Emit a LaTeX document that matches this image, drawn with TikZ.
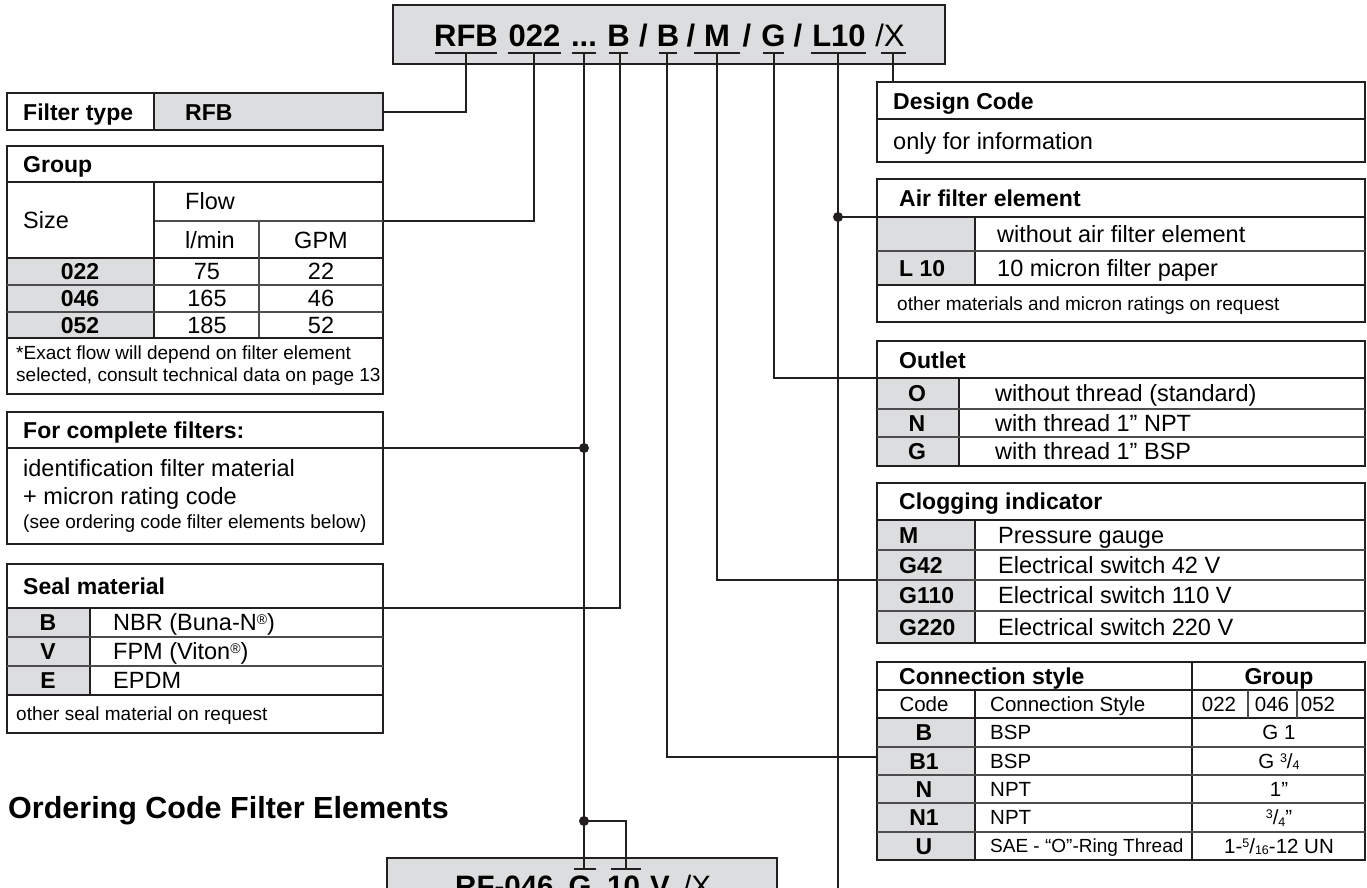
\documentclass[tikz,border=0pt]{standalone}
\usepackage{fontspec}
\setmainfont{Liberation Sans}
\definecolor{lc}{HTML}{231F20}
\definecolor{gf}{HTML}{DCDDDE}
\newcommand{\myfr}[2]{\raisebox{6pt}{\fontsize{12.5}{13}\selectfont #1}/\raisebox{-1.5pt}{\fontsize{12.5}{13}\selectfont #2}}
\newcommand{\myreg}{\raisebox{6pt}{\fontsize{14}{14}\selectfont ®}}
\tikzset{
  bx/.style={draw=lc, line width=2pt},
  rl/.style={draw=lc!80, line width=1.1pt},
  con/.style={draw=lc, line width=2pt},
  jdot/.style={circle, fill=lc, inner sep=0pt, minimum size=10pt},
  hb/.style={font=\fontsize{23}{26}\selectfont\bfseries, inner sep=0pt, anchor=west, text height=16.5pt, text depth=0pt},
  hbc/.style={hb, anchor=center},
  tr/.style={font=\fontsize{23.5}{26}\selectfont, inner sep=0pt, anchor=west, text height=16.8pt, text depth=0pt},
  trc/.style={tr, anchor=center},
  tm/.style={font=\fontsize{20.5}{23}\selectfont, inner sep=0pt, anchor=west, text height=14.7pt, text depth=0pt},
  tmc/.style={tm, anchor=center},
  ts/.style={font=\fontsize{19}{22}\selectfont, inner sep=0pt, anchor=west, text height=13.6pt, text depth=0pt},
  tsc/.style={ts, anchor=center},
  hdr/.style={font=\fontsize{31}{33}\selectfont\bfseries, inner sep=0pt, anchor=base},
  hdrr/.style={font=\fontsize{31}{33}\selectfont, inner sep=0pt, anchor=base},
  bhdr/.style={font=\fontsize{29.5}{32}\selectfont\bfseries, inner sep=0pt, anchor=base},
  bhdrr/.style={font=\fontsize{29.5}{32}\selectfont, inner sep=0pt, anchor=base},
}
\begin{document}
\begin{tikzpicture}[x=1pt,y=-1pt]
\useasboundingbox (0,0) rectangle (1367,888);
\clip (0,0) rectangle (1367,888);

% ---------- top code box ----------
\draw[bx, fill=gf] (393,5) rectangle (945,64);
\node[hdr] (hRFB) at (466,47) {RFB};
\node[hdr] (h022) at (534.5,47) {022};
\node[hdr] (hdots) at (584,47) {...};
\node[hdr] (hB1) at (618.5,47) {B};
\node[hdr] (hs1) at (643.5,47) {/};
\node[hdr] (hB2) at (668,47) {B};
\node[hdr] (hs2) at (691,47) {/};
\node[hdr] (hM) at (717,47) {M};
\node[hdr] (hs3) at (747,47) {/};
\node[hdr] (hG) at (773.5,47) {G};
\node[hdr] (hs4) at (798,47) {/};
\node[hdr] (hL) at (839,47) {L10};
\node[hdrr] (hX) at (890,47) {/X};
\draw[con] (435,53) -- (497,53);
\draw[con] (508,53) -- (561,53);
\draw[con] (572,53) -- (596,53);
\draw[con] (609,53) -- (628,53);
\draw[con] (659,53) -- (677,53);
\draw[con] (694,53) -- (740,53);
\draw[con] (763,53) -- (784,53);
\draw[con] (811,53) -- (866,53);
\draw[con] (881,53) -- (906,53);
\coordinate (uRFB) at (466,53);
\coordinate (u022) at (534,53);
\coordinate (udots) at (584,53);
\coordinate (uB1) at (620,53);
\coordinate (uB2) at (667,53);
\coordinate (uM) at (717,53);
\coordinate (uG) at (774,53);
\coordinate (uL) at (838,53);
\coordinate (uX) at (893,53);

% ---------- Filter type ----------
\fill[gf] (154,93) rectangle (383,130);
\draw[bx] (7,93) rectangle (383,130);
\draw[bx] (154,93) -- (154,130);
\node[hb] (ftA) at (23,112) {Filter type};
\node[hb] (ftB) at (185,112) {RFB};
\coordinate (ftR) at (383,112);

% ---------- Group ----------
\fill[gf] (7,258) rectangle (154,338);
\draw[bx] (7,146) rectangle (383,394);
\draw[bx] (7,182) -- (383,182);
\draw[rl] (154,221) -- (383,221);
\draw[bx] (7,258) -- (383,258);
\draw[bx] (154,182) -- (154,338);
\draw[rl] (259,221) -- (259,338);
\draw[rl] (7,285) -- (383,285);
\draw[rl] (7,312) -- (383,312);
\draw[bx] (7,338) -- (383,338);
\node[hb] (grH) at (23,164) {Group};
\node[tr] (grS) at (23,220) {Size};
\node[tr] (grF) at (185,201) {Flow};
\node[tr] (grL) at (185,240) {l/min};
\node[trc] (grG) at (321,240) {GPM};
\node[hbc] (g1a) at (80,271.5) {022};
\node[trc] (g1b) at (207,271.5) {75};
\node[trc] (g1c) at (321,271.5) {22};
\node[hbc] (g2a) at (80,298.5) {046};
\node[trc] (g2b) at (207,298.5) {165};
\node[trc] (g2c) at (321,298.5) {46};
\node[hbc] (g3a) at (80,325) {052};
\node[trc] (g3b) at (207,325) {185};
\node[trc] (g3c) at (321,325) {52};
\node[ts] (grN1) at (16,353) {*Exact flow will depend on filter element};
\node[ts] (grN2) at (16,375) {selected, consult technical data on page 13};
\coordinate (grR) at (383,221);

% ---------- For complete filters ----------
\draw[bx] (7,412) rectangle (383,544);
\draw[bx] (7,448) -- (383,448);
\node[hb] (fcH) at (23,430) {For complete filters:};
\node[tr] (fc1) at (23,468) {identification filter material};
\node[tr] (fc2) at (23,496) {+ micron rating code};
\node[ts] (fc3) at (23,522) {(see ordering code filter elements below)};
\coordinate (fcR) at (383,448);

% ---------- Seal material ----------
\fill[gf] (7,608) rectangle (90,695);
\draw[bx] (7,564) rectangle (383,733);
\draw[bx] (7,608) -- (383,608);
\draw[bx] (90,608) -- (90,695);
\draw[rl] (7,637) -- (383,637);
\draw[rl] (7,666) -- (383,666);
\draw[bx] (7,695) -- (383,695);
\node[hb] (smH) at (23,586) {Seal material};
\node[hbc] (sm1a) at (48,622.5) {B};
\node[tr] (sm1b) at (113,622.5) {NBR (Buna-N\myreg)};
\node[hbc] (sm2a) at (48,651.5) {V};
\node[tr] (sm2b) at (113,651.5) {FPM (Viton\myreg)};
\node[hbc] (sm3a) at (48,680.5) {E};
\node[tr] (sm3b) at (113,680.5) {EPDM};
\node[ts] (smN) at (16,714) {other seal material on request};
\coordinate (smR) at (383,608);

% ---------- Ordering code heading ----------
\node[font=\fontsize{30.5}{33}\selectfont\bfseries, inner sep=0pt, anchor=west, text height=21.8pt, text depth=0pt] (oc) at (8,808) {Ordering Code Filter Elements};

% ---------- bottom code box ----------
\draw[bx, fill=gf] (387,858) rectangle (777,905);
\draw[con] (574,869) -- (596,869);
\draw[con] (611,869) -- (641,869);
\node[bhdr, anchor=base west] (bRF) at (455,896) {RF-046};
\node[bhdr] (bG) at (580,896) {G};
\node[bhdr] (b10) at (623.5,896) {10};
\node[bhdr] (bV) at (660,896) {V};
\node[bhdrr] (bX) at (697,896) {/X};
\coordinate (tG) at (584,869);
\coordinate (t10) at (626,869);

% ---------- Design Code ----------
\draw[bx] (877,82) rectangle (1365,162);
\draw[bx] (877,119) -- (1365,119);
\node[hb] (dcH) at (893,101) {Design Code};
\node[tr] (dcT1) at (893,141) {only for information};
\coordinate (dcT) at (893,82);

% ---------- Air filter element ----------
\fill[gf] (877,217) rectangle (975,285);
\draw[bx] (877,179) rectangle (1365,322);
\draw[bx] (877,217) -- (1365,217);
\draw[bx] (975,217) -- (975,285);
\draw[rl] (877,251) -- (1365,251);
\draw[bx] (877,285) -- (1365,285);
\node[hb] (afH) at (899,198) {Air filter element};
\node[tr] (af1) at (997,234) {without air filter element};
\node[hb] (af2a) at (899,268) {L 10};
\node[tr] (af2b) at (997,268) {10 micron filter paper};
\node[ts] (afN) at (897,303.5) {other materials and micron ratings on request};
\coordinate (afL) at (877,217);

% ---------- Outlet ----------
\fill[gf] (877,378) rectangle (959,466);
\draw[bx] (877,341) rectangle (1365,466);
\draw[bx] (877,378) -- (1365,378);
\draw[bx] (959,378) -- (959,466);
\draw[rl] (877,409) -- (1365,409);
\draw[rl] (877,437) -- (1365,437);
\node[hb] (olH) at (899,360) {Outlet};
\node[hbc] (ol1a) at (917,393.5) {O};
\node[tr] (ol1b) at (995,393.5) {without thread (standard)};
\node[hbc] (ol2a) at (917,423) {N};
\node[tr] (ol2b) at (995,423) {with thread 1” NPT};
\node[hbc] (ol3a) at (917,451.5) {G};
\node[tr] (ol3b) at (995,451.5) {with thread 1” BSP};
\coordinate (olL) at (877,378);

% ---------- Clogging indicator ----------
\fill[gf] (877,520) rectangle (975,643);
\draw[bx] (877,483) rectangle (1365,643);
\draw[bx] (877,520) -- (1365,520);
\draw[bx] (975,520) -- (975,643);
\draw[rl] (877,550) -- (1365,550);
\draw[rl] (877,580) -- (1365,580);
\draw[rl] (877,611) -- (1365,611);
\node[hb] (ciH) at (899,501.5) {Clogging indicator};
\node[hb] (ci1a) at (899,535) {M};
\node[tr] (ci1b) at (998,535) {Pressure gauge};
\node[hb] (ci2a) at (899,565) {G42};
\node[tr] (ci2b) at (998,565) {Electrical switch 42 V};
\node[hb] (ci3a) at (899,595.5) {G110};
\node[tr] (ci3b) at (998,595.5) {Electrical switch 110 V};
\node[hb] (ci4a) at (899,627) {G220};
\node[tr] (ci4b) at (998,627) {Electrical switch 220 V};
\coordinate (ciL) at (877,580);

% ---------- Connection style ----------
\fill[gf] (877,718) rectangle (975,860);
\draw[bx] (877,662) rectangle (1365,860);
\draw[bx] (877,690) -- (1365,690);
\draw[bx] (877,718) -- (1365,718);
\draw[bx] (975,690) -- (975,860);
\draw[bx] (1192,662) -- (1192,860);
\draw[rl] (1248,690) -- (1248,718);
\draw[rl] (1297,690) -- (1297,718);
\draw[rl] (877,747) -- (1365,747);
\draw[rl] (877,775) -- (1365,775);
\draw[rl] (877,803) -- (1365,803);
\draw[rl] (877,832) -- (1365,832);
\node[hb] (csH) at (899,676) {Connection style};
\node[hbc] (csG) at (1279,676) {Group};
\node[tmc] (csC) at (924,704) {Code};
\node[tm] (csS) at (990,704) {Connection Style};
\node[tmc] (cs022) at (1219,704) {022};
\node[tmc] (cs046) at (1272,704) {046};
\node[tmc] (cs052) at (1318,704) {052};
\node[hbc] (cs1a) at (924,732.5) {B};
\node[tm] (cs1b) at (990,732.5) {BSP};
\node[tmc] (cs1c) at (1279,732.5) {G 1};
\node[hbc] (cs2a) at (924,761) {B1};
\node[tm] (cs2b) at (990,761) {BSP};
\node[tmc] (cs2c) at (1279,761) {G \myfr{3}{4}};
\node[hbc] (cs3a) at (924,789) {N};
\node[tm] (cs3b) at (990,789) {NPT};
\node[tmc] (cs3c) at (1279,789) {1”};
\node[hbc] (cs4a) at (924,817.5) {N1};
\node[tm] (cs4b) at (990,817.5) {NPT};
\node[tmc] (cs4c) at (1279,817.5) {\myfr{3}{4}”};
\node[hbc] (cs5a) at (924,846) {U};
\node[ts] (cs5b) at (990,846) {SAE - “O”-Ring Thread};
\node[tmc] (cs5c) at (1279,846) {1-\myfr{5}{16}-12 UN};
\coordinate (csL) at (877,757);

% ---------- connectors ----------
\coordinate (jf) at (584,448);
\coordinate (jb) at (584,821);
\coordinate (jl) at (838,217);
\coordinate (lb) at (838,895);
\draw[con] (uRFB) |- (ftR);
\draw[con] (u022) |- (grR);
\draw[con] (udots) -- (jb) -- (tG);
\draw[con] (fcR) -- (jf);
\draw[con] (jb) -| (t10);
\draw[con] (uB1) |- (smR);
\draw[con] (uB2) |- (csL);
\draw[con] (uM) |- (ciL);
\draw[con] (uG) |- (olL);
\draw[con] (uL) -- (lb);
\draw[con] (jl) -- (afL);
\draw[con] (uX) -- (dcT);
\node[jdot] (d1) at (jf) {};
\node[jdot] (d2) at (jb) {};
\node[jdot] (d3) at (jl) {};
\end{tikzpicture}
\end{document}
